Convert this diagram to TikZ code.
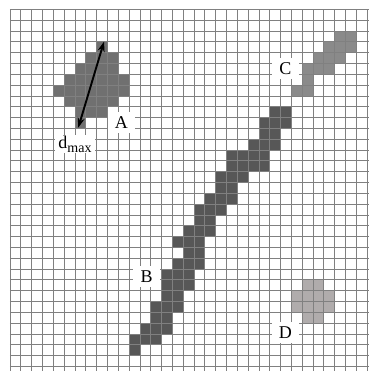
\documentclass[tikz,border=0pt]{standalone}
\usepackage{fontspec}
\setmainfont{Liberation Serif}
\usetikzlibrary{arrows.meta}
\definecolor{blobA}{gray}{0.44}
\definecolor{blobB}{gray}{0.34}
\definecolor{blobC}{gray}{0.54}
\definecolor{blobD}{RGB}{176,172,172}
\begin{document}
\begin{tikzpicture}[x=10.82pt,y=-10.82pt,
  gridline/.style={draw=black!50, line width=0.65pt},
  lbl/.style={fill=white, inner sep=0pt, minimum width=27pt, minimum height=21pt, font=\fontsize{18}{18}\selectfont},
  dimarrow/.style={{Stealth[length=10pt,width=7pt]}-{Stealth[length=10pt,width=7pt]}, line width=1.9pt, black}]
\useasboundingbox (-0.924,-0.86) rectangle (33.18,33.43);
\fill[white] (-0.924,-0.86) rectangle (33.18,33.43);
% blob A
\foreach \r/\a/\b in {3/8/8,4/7/9,5/6/9,6/5/10,7/4/10,8/5/9,9/6/8,10/6/6}
  {\foreach \c in {\a,...,\b} \fill[blobA] (\c,\r) rectangle ++(1,1);}
% blob B
\foreach \r/\a/\b in {9/24/25,10/23/25,11/23/24,12/22/24,13/20/23,14/20/23,15/19/21,16/19/20,17/18/20,18/17/19,19/17/18,20/16/18,21/15/17,22/16/17,23/15/17,24/14/16,25/14/16,26/14/15,27/13/15,28/13/14,29/12/14,30/11/13,31/11/11}
  {\foreach \c in {\a,...,\b} \fill[blobB] (\c,\r) rectangle ++(1,1);}
% blob C
\foreach \r/\a/\b in {2/30/31,3/29/31,4/28/30,5/27/29,6/27/27,7/26/27}
  {\foreach \c in {\a,...,\b} \fill[blobC] (\c,\r) rectangle ++(1,1);}
% blob D
\foreach \r/\a/\b in {25/27/28,26/26/29,27/26/29,28/27/28}
  {\foreach \c in {\a,...,\b} \fill[blobD] (\c,\r) rectangle ++(1,1);}
% grid
\foreach \i in {0,...,33} {
  \draw[gridline] (\i,0) -- (\i,33.43);
  \draw[gridline] (0,\i) -- (33.18,\i);
}
% dimension arrow
\coordinate (dtop) at (8.69,2.99);
\coordinate (dbot) at (6.31,10.94);
\draw[dimarrow] (dbot) -- (dtop);
% labels
\node[lbl] (labA) at (10.3,10.5) {A};
\node[lbl] (labC) at (25.45,5.5) {C};
\node[lbl] (labB) at (12.63,24.7) {B};
\node[lbl] (labD) at (25.45,29.9) {D};
\node[lbl, minimum width=40pt, minimum height=18pt] (labd) at (6.01,12.45) {d\raisebox{-0.45ex}{\fontsize{14}{14}\selectfont max}};
\end{tikzpicture}
\end{document}
